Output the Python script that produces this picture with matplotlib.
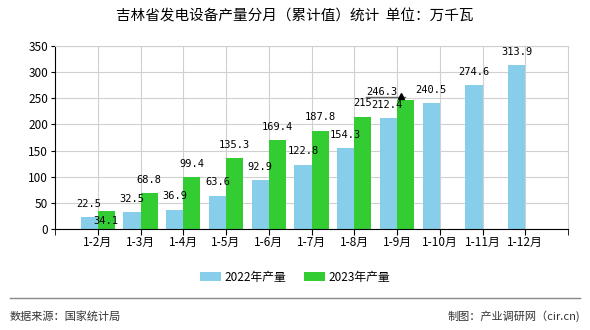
import matplotlib.pyplot as plt
import numpy as np

plt.rcParams['font.family'] = ['Noto Sans CJK SC', 'DejaVu Sans']

# DATA
months = ['1-2月', '1-3月', '1-4月', '1-5月', '1-6月', '1-7月', '1-8月',
          '1-9月', '1-10月', '1-11月', '1-12月']
y2022 = [22.5, 32.5, 36.9, 63.6, 92.9, 122.8, 154.3, 212.4, 240.5, 274.6, 313.9]
y2023 = [34.1, 68.8, 99.4, 135.3, 169.4, 187.8, 215, 246.3]
lab2022 = ['22.5', '32.5', '36.9', '63.6', '92.9', '122.8', '154.3', '212.4',
           '240.5', '274.6', '313.9']
lab2023 = ['34.1', '68.8', '99.4', '135.3', '169.4', '187.8', '215', '246.3']

# FIGURE
fig = plt.figure(figsize=(5.9, 3.3), dpi=100)
ax = fig.add_axes([55 / 590, 1 - 229 / 330, 513 / 590, 183 / 330])

x = np.arange(1, len(months) + 1)
w = 0.4
ax.bar(x[:len(y2022)] - w / 2, y2022, w, color='#87CEEB', label='2022年产量', zorder=2)
ax.bar(x[:len(y2023)] + w / 2, y2023, w, color='#33CC33', label='2023年产量', zorder=2)

mono = dict(family='DejaVu Sans Mono', fontsize=7.5, ha='center', va='bottom', zorder=3)
for i, (v, t) in enumerate(zip(y2022, lab2022)):
    dx, dy = 0, 6
    if i == 7:
        dx, dy = -1, 6
    ax.annotate(t, (x[i] - w / 2, v), xytext=(dx, dy), textcoords='offset points', **mono)
for i, (v, t) in enumerate(zip(y2023, lab2023)):
    dx, dy = 0, 6
    if i == 0:
        dx, dy = 0, -11
    if i == 7:
        dx, dy = -17, 2
    ax.annotate(t, (x[i] + w / 2, v), xytext=(dx, dy), textcoords='offset points', **mono)
# small pointer line and arrow near the 1-9月 label
ax.plot([x[7] - 0.73, x[7] + 0.19], [y2023[7] + 6] * 2, color='#666666', lw=1, zorder=3)
ax.plot(x[7] + 0.1, y2023[7] + 8, marker='^', color='black', ms=4, zorder=3)

ax.set_xlim(0, 12)
ax.set_ylim(0, 350)
ax.set_yticks(range(0, 351, 50))
ax.set_xticks(x)
ax.set_xticklabels(months, fontsize=8.5)
ax.tick_params(axis='y', labelsize=8.5, length=3, pad=2)
ax.tick_params(axis='x', length=4, pad=1)
ax.set_xticks([0, 12], minor=True)
ax.tick_params(axis='x', which='minor', length=4)
ax.grid(True, color='#d0d0d0', lw=0.8, zorder=0)
for s in ['top', 'right']:
    ax.spines[s].set_color('#d0d0d0')
for s in ['left', 'bottom']:
    ax.spines[s].set_color('black')

fig.text(0.5, 1 - 16 / 330, '吉林省发电设备产量分月（累计值）统计  单位：万千瓦',
         ha='center', va='center', fontsize=10.5)
fig.legend(loc='center', bbox_to_anchor=(0.5, 1 - 277 / 330), ncol=2, frameon=False,
           fontsize=8.5, handlelength=1.8, handleheight=0.8, handletextpad=0.3,
           columnspacing=1.5)
fig.add_artist(plt.Line2D([10 / 590, 580 / 590], [1 - 298 / 330] * 2, color='#888888', lw=1))
fig.text(10 / 590, 1 - 316 / 330, '数据来源：国家统计局', ha='left', va='center', fontsize=8, color='#333333')
fig.text(580 / 590, 1 - 316 / 330, '制图：产业调研网（cir.cn)', ha='right', va='center', fontsize=8, color='#333333')

plt.savefig('out.png', dpi=100)
